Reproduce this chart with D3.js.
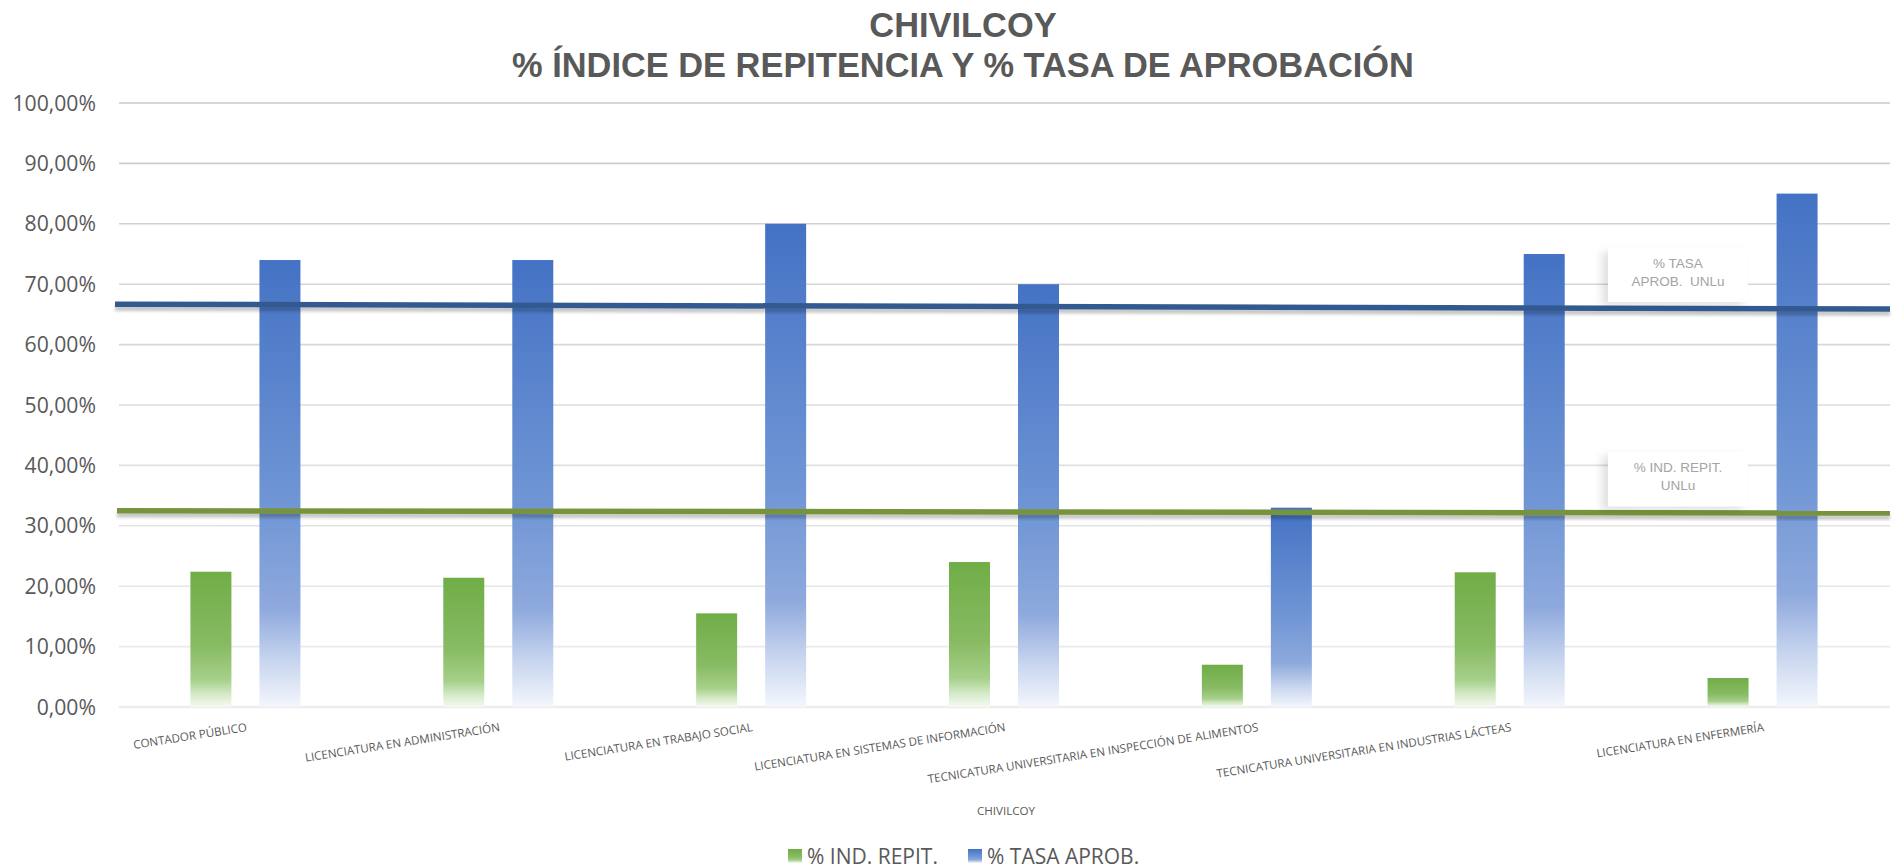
<!DOCTYPE html>
<html>
<head>
<meta charset="utf-8">
<script src="https://cdn.jsdelivr.net/npm/d3@7"></script>
<style>
  body { margin: 0; background: #fff; }
  svg { display: block; }
</style>
</head>
<body>
<div id="chart"></div>
<script>
// Chivilcoy: % índice de repitencia y % tasa de aprobación

// Data
const categories = [
    "CONTADOR PÚBLICO",
    "LICENCIATURA EN ADMINISTRACIÓN",
    "LICENCIATURA EN TRABAJO SOCIAL",
    "LICENCIATURA EN SISTEMAS DE INFORMACIÓN",
    "TECNICATURA UNIVERSITARIA EN INSPECCIÓN DE ALIMENTOS",
    "TECNICATURA UNIVERSITARIA EN INDUSTRIAS LÁCTEAS",
    "LICENCIATURA EN ENFERMERÍA"
];
const seriesNames = ["% IND. REPIT.", "% TASA APROB."];
const repitencia = [22.4, 21.4, 15.5, 24.0, 7.0, 22.3, 4.8];
const aprobacion = [74.0, 74.0, 80.0, 70.0, 33.0, 75.0, 85.0];
const yTicks = [0, 10, 20, 30, 40, 50, 60, 70, 80, 90, 100];
// UNLu reference lines (left end, right end)
const tasaUNLu = [66.7, 65.9];
const repitUNLu = [32.5, 32.1];
const tasaNote = ["% TASA", "APROB.  UNLu"];
const repitNote = ["% IND. REPIT.", "UNLu"];

// Chart dimensions
const width = 1892, height = 868;
const margin = { top: 103, right: 2, bottom: 161, left: 119 };

const svg = d3.select("#chart")
    .append("svg")
    .attr("width", width)
    .attr("height", height);

const defs = svg.append("defs");

// bar gradients (solid at top, fading out at the bottom)
function makeGradient(id, stops) {
    const g = defs.append("linearGradient")
        .attr("id", id)
        .attr("x1", 0).attr("y1", 0)
        .attr("x2", 0).attr("y2", 1);
    stops.forEach(s => g.append("stop").attr("offset", s[0]).attr("stop-color", s[1]));
}
makeGradient("grad-green", [[0, "#70ad47"], [0.55, "#88bb63"], [0.8, "#a6d08a"], [0.9, "#d3e8c5"], [1, "#f5faf2"]]);
makeGradient("grad-blue", [[0, "#4472c4"], [0.55, "#7096d5"], [0.78, "#8ea9dd"], [0.9, "#c9d6ef"], [1, "#f3f6fc"]]);

// shadows
const lineShadow = defs.append("filter").attr("id", "line-shadow")
    .attr("x", "-1%").attr("y", "-200%").attr("width", "102%").attr("height", "600%");
lineShadow.append("feDropShadow")
    .attr("dx", 0).attr("dy", 4).attr("stdDeviation", 1.8)
    .attr("flood-color", "#000").attr("flood-opacity", 0.22);

const boxShadow = defs.append("filter").attr("id", "box-shadow")
    .attr("x", "-30%").attr("y", "-30%").attr("width", "160%").attr("height", "160%");
boxShadow.append("feDropShadow")
    .attr("dx", -6).attr("dy", 4).attr("stdDeviation", 4)
    .attr("flood-color", "#000").attr("flood-opacity", 0.12);

// Scales
const x0 = d3.scaleBand()
    .domain(categories)
    .range([margin.left, width - margin.right - 1])
    .padding(0);

const groupWidth = 110;
const x1 = d3.scaleBand()
    .domain(seriesNames)
    .range([0, groupWidth])
    .paddingInner(0.406);

const y = d3.scaleLinear()
    .domain([0, 100])
    .range([height - margin.bottom, margin.top]);

const colorGrid = d3.interpolateRgb("#cacaca", "#ededed");

// Title
const title = svg.append("text")
    .attr("x", 963)
    .attr("text-anchor", "middle")
    .style("font-family", "'Liberation Sans', Arial, sans-serif")
    .style("font-weight", "bold")
    .style("font-size", "34.4px")
    .attr("fill", "#595959");
title.append("tspan").attr("x", 963).attr("y", 37).text("CHIVILCOY");
title.append("tspan").attr("x", 963).attr("y", 77).text("% ÍNDICE DE REPITENCIA Y % TASA DE APROBACIÓN");

// Gridlines
svg.append("g")
    .selectAll("line")
    .data(yTicks)
    .enter().append("line")
    .attr("x1", margin.left)
    .attr("x2", width - margin.right)
    .attr("y1", d => y(d))
    .attr("y2", d => y(d))
    .attr("stroke", d => colorGrid(1 - d / 100))
    .attr("stroke-width", d => d === 0 ? 2.5 : 1.6);

// Y axis labels
svg.append("g")
    .selectAll("text")
    .data(yTicks)
    .enter().append("text")
    .attr("x", 96)
    .attr("y", d => y(d))
    .attr("dy", "0.36em")
    .attr("text-anchor", "end")
    .style("font-family", "'Open Sans', sans-serif")
    .style("font-size", "21.2px")
    .attr("fill", "#595959")
    .text(d => d.toFixed(2).replace(".", ",") + "%");

// Bars
const rows = categories.map((c, i) => ({ cat: c, values: [repitencia[i], aprobacion[i]] }));
const barGroup = svg.selectAll(".bar-group")
    .data(rows)
    .enter().append("g")
    .attr("class", "bar-group")
    .attr("transform", d => "translate(" + (x0(d.cat) + (x0.bandwidth() - groupWidth) / 2) + ",0)");

barGroup.selectAll("rect")
    .data(d => d.values.map((v, j) => ({ name: seriesNames[j], value: v })))
    .enter().append("rect")
    .attr("x", d => x1(d.name))
    .attr("y", d => y(d.value))
    .attr("width", x1.bandwidth())
    .attr("height", d => y(0) - y(d.value))
    .attr("fill", d => d.name === seriesNames[0] ? "url(#grad-green)" : "url(#grad-blue)");

// UNLu reference lines
const lineX = [115, width - 2];
svg.append("line")
    .attr("x1", lineX[0]).attr("x2", lineX[1])
    .attr("y1", y(tasaUNLu[0])).attr("y2", y(tasaUNLu[1]))
    .attr("stroke", "#335a91")
    .attr("stroke-width", 5.5)
    .attr("filter", "url(#line-shadow)");

svg.append("line")
    .attr("x1", lineX[0] + 2).attr("x2", lineX[1])
    .attr("y1", y(repitUNLu[0])).attr("y2", y(repitUNLu[1]))
    .attr("stroke", "#77933c")
    .attr("stroke-width", 5.5)
    .attr("filter", "url(#line-shadow)");

// Notes next to the reference lines
function addNote(lines, value) {
    const boxX = 1608, boxW = 140, boxH = 54;
    const bottom = y(value) - 7;
    const g = svg.append("g");
    g.append("rect")
        .attr("x", boxX)
        .attr("y", bottom - boxH)
        .attr("width", boxW)
        .attr("height", boxH)
        .attr("fill", "#fff")
        .attr("filter", "url(#box-shadow)");
    g.selectAll("text")
        .data(lines)
        .enter().append("text")
        .attr("x", boxX + boxW / 2)
        .attr("y", (d, i) => bottom - 34 + i * 18)
        .attr("text-anchor", "middle")
        .style("font-family", "'Liberation Sans', Arial, sans-serif")
        .style("font-size", "13.5px")
        .style("white-space", "pre")
        .attr("fill", "#a3a3a3")
        .text(d => d);
}
addNote(tasaNote, tasaUNLu[1]);
addNote(repitNote, repitUNLu[1]);

// X axis labels (rotated)
svg.append("g")
    .selectAll("text")
    .data(categories)
    .enter().append("text")
    .attr("transform", d => "translate(" + (x0(d) + x0.bandwidth() / 2 + 2) + ",731) rotate(-9)")
    .attr("text-anchor", "end")
    .style("font-family", "'Open Sans', sans-serif")
    .style("font-size", "11.6px")
    .attr("fill", "#595959")
    .text(d => d);

// X axis title
svg.append("text")
    .attr("x", (x0.range()[0] + x0.range()[1]) / 2 + 2)
    .attr("y", 815)
    .attr("text-anchor", "middle")
    .style("font-family", "'Open Sans', sans-serif")
    .style("font-size", "11.6px")
    .attr("fill", "#595959")
    .text("CHIVILCOY");

// Legend
const legendX = [788, 968];
const legend = svg.selectAll(".legend")
    .data(seriesNames)
    .enter().append("g")
    .attr("class", "legend")
    .attr("transform", (d, i) => "translate(" + legendX[i] + ",849)");

legend.append("rect")
    .attr("width", 14)
    .attr("height", 14)
    .attr("fill", (d, i) => i === 0 ? "url(#grad-green)" : "url(#grad-blue)");

legend.append("text")
    .attr("x", 19)
    .attr("y", 14.5)
    .style("font-family", "'Open Sans', sans-serif")
    .style("font-size", "21px")
    .attr("fill", "#595959")
    .text(d => d);
</script>
</body>
</html>
